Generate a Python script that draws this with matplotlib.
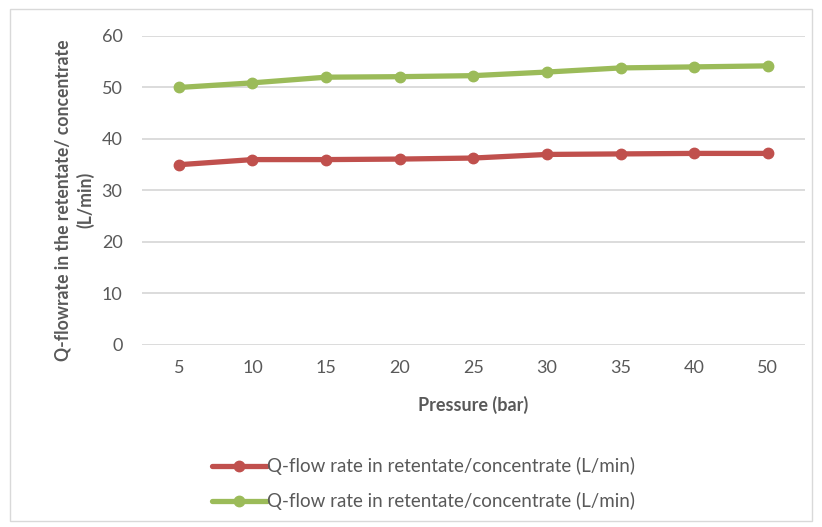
import matplotlib.pyplot as plt
from matplotlib.patches import Rectangle
import numpy as np

# pressure categories and flow rates
pressure = ['5', '10', '15', '20', '25', '30', '35', '40', '50']
q_red = [35.0, 36.0, 36.0, 36.1, 36.3, 37.0, 37.1, 37.2, 37.2]
q_green = [50.0, 50.9, 52.0, 52.1, 52.3, 53.0, 53.8, 54.0, 54.2]
label = 'Q-flow rate in retentate/concentrate (L/min)'

plt.rcParams['font.family'] = ['Lato', 'DejaVu Sans']
grey = '#595959'

fig = plt.figure(figsize=(8.22, 5.27), dpi=100)
fig.patches.append(Rectangle((0.012, 0.012), 0.976, 0.97, transform=fig.transFigure,
                             fill=False, edgecolor='#D9D9D9', linewidth=1))

ax = fig.add_axes([0.1727, 0.3454, 0.8063, 0.5863])
x = np.arange(len(pressure))
ax.plot(x, q_red, color='#C0504D', linewidth=3.8, marker='o', markersize=7.5,
        solid_capstyle='round', label=label, zorder=3)
ax.plot(x, q_green, color='#9BBB59', linewidth=3.8, marker='o', markersize=7.5,
        solid_capstyle='round', label=label, zorder=3)

ax.set_xlim(-0.5, len(pressure) - 0.5)
ax.set_ylim(0, 60)
ax.set_yticks(range(0, 61, 10))
ax.set_xticks(x)
ax.set_xticklabels(pressure)
ax.grid(axis='y', color='#D9D9D9', linewidth=1.3)
ax.set_axisbelow(True)
for s in ax.spines.values():
    s.set_visible(False)
ax.tick_params(length=0, labelsize=13, colors=grey, pad=11)
ax.tick_params(axis='y', pad=14)

ax.set_xlabel('Pressure (bar)', fontsize=13, color=grey, fontweight='bold', labelpad=14)
ax.set_ylabel('Q-flowrate in the retentate/ concentrate\n(L/min)', fontsize=12.7,
              color=grey, fontweight='bold', linespacing=1.3)
ax.yaxis.set_label_coords(-0.072, 0.47)

fig.legend(loc='center', bbox_to_anchor=(0.515, 0.082), frameon=False, ncol=1,
           fontsize=13.5, labelcolor=grey, handlelength=2.9, handletextpad=0.0,
           labelspacing=0.9)

fig.savefig('out.png', dpi=100)
